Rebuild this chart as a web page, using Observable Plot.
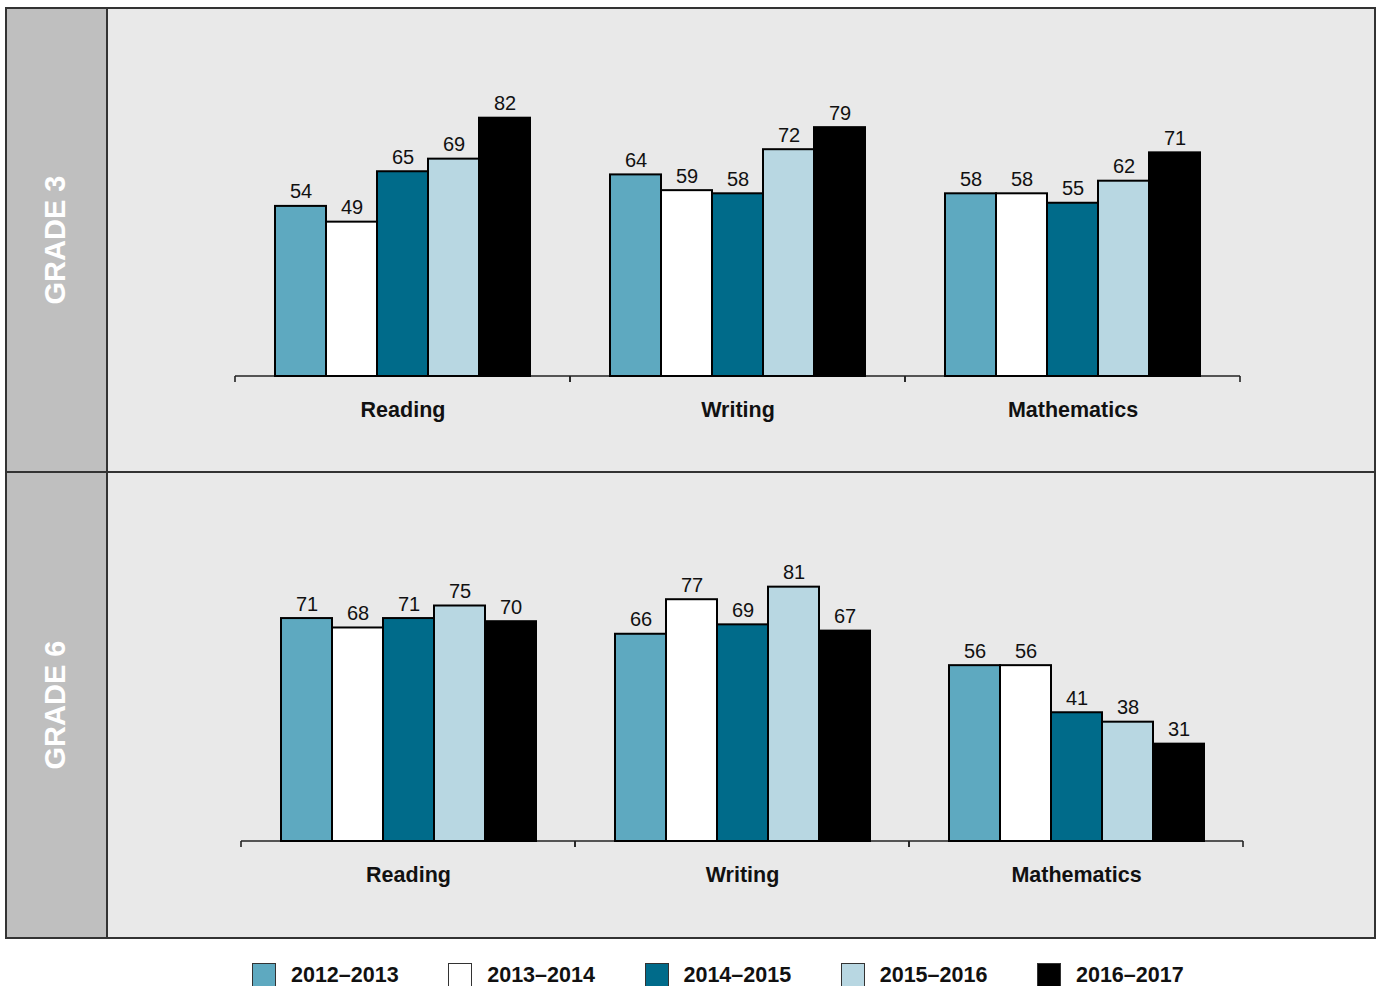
<!DOCTYPE html>
<html>
<head>
<meta charset="utf-8">
<script src="https://cdn.jsdelivr.net/npm/d3@7"></script>
<script src="https://cdn.jsdelivr.net/npm/@observablehq/plot@0.6"></script>
<style>
  html, body { margin: 0; padding: 0; background: #fff; }
  body { width: 1378px; height: 986px; overflow: hidden; position: relative; font-family: "Liberation Sans", Arial, sans-serif; }
  .row { position: absolute; left: 5px; width: 1371px; border: 2px solid #333; box-sizing: border-box; background: #e9e9e9; }
  .strip { position: absolute; left: 0; top: 0; bottom: 0; width: 99px; background: #bfbfbf; border-right: 2px solid #333; }
  .glabel { position: absolute; transform: translate(-50%, -50%) rotate(-90deg); color: #fff; font-weight: bold; font-size: 29px; white-space: nowrap; }
  .panel { position: absolute; left: 107px; }
  #legend { position: absolute; left: 252px; top: 963px; display: flex; }
  .item { width: 196.25px; display: flex; align-items: center; }
  .sw { width: 24px; height: 24px; box-sizing: border-box; border: 1.5px solid #333; margin-right: 15px; flex: none; }
  .lt { font-weight: bold; font-size: 21.5px; color: #111; line-height: 24px; }
</style>
</head>
<body>
<div class="row" style="top:7px;height:466px;"><div class="strip"></div></div>
<div class="row" style="top:471px;height:468px;"><div class="strip"></div></div>
<div class="glabel" style="left:55px;top:240px;">GRADE 3</div>
<div class="glabel" style="left:55px;top:705px;">GRADE 6</div>
<div class="panel" id="p3" style="top:8px;"></div>
<div class="panel" id="p6" style="top:472px;"></div>
<div id="legend"></div>
<script>
const subjects = ["Reading", "Writing", "Mathematics"];
const years = ["2012–2013", "2013–2014", "2014–2015", "2015–2016", "2016–2017"];
const yearColors = ["#5ea9c0", "#ffffff", "#006b8a", "#b8d7e2", "#000000"];

const grade3Reading = [54, 49, 65, 69, 82];
const grade3Writing = [64, 59, 58, 72, 79];
const grade3Math = [58, 58, 55, 62, 71];

const grade6Reading = [71, 68, 71, 75, 70];
const grade6Writing = [66, 77, 69, 81, 67];
const grade6Math = [56, 56, 41, 38, 31];

function rows(series) {
  const out = [];
  subjects.forEach((s, i) => {
    years.forEach((y, j) => out.push({subject: s, year: y, value: series[i][j]}));
  });
  return out;
}

// Baseline with tick marks at the edges of each facet (rendered once per facet)
function axisWithTicks(index, scales, values, dim) {
  const g = d3.create("svg:g").attr("stroke", "#222").attr("stroke-width", 1.6).attr("fill", "none");
  const y0 = dim.height - dim.marginBottom;
  const x0 = dim.marginLeft, x1 = dim.width - dim.marginRight;
  g.append("line").attr("x1", x0).attr("x2", x1).attr("y1", y0).attr("y2", y0);
  for (const x of [x0, x1]) {
    g.append("line").attr("x1", x).attr("x2", x).attr("y1", y0).attr("y2", y0 + 6);
  }
  return g.node();
}

function panel(series, opts) {
  const data = rows(series);
  return Plot.plot({
    width: 1269,
    height: opts.height,
    marginLeft: opts.ml,
    marginRight: opts.mr,
    marginTop: opts.mt,
    marginBottom: opts.mb,
    style: {background: "transparent", fontFamily: "Liberation Sans, Arial, sans-serif", color: "#111", overflow: "visible"},
    fx: {domain: subjects, padding: 0},
    x: {domain: years, paddingInner: 0, paddingOuter: 0.746, axis: null},
    y: {domain: [0, 100], axis: null},
    color: {domain: years, range: yearColors},
    marks: [
      axisWithTicks,
      Plot.barY(data, {fx: "subject", x: "year", y: "value", fill: "year", stroke: "#000", strokeWidth: 2}),
      Plot.text(data, {fx: "subject", x: "year", y: "value", text: d => String(d.value), dy: -8, lineAnchor: "bottom", fontSize: 20, fill: "#111"}),
      Plot.axisFx({anchor: "bottom", tickSize: 0, tickPadding: 25, fontSize: 21.5, fontWeight: "bold", label: null})
    ]
  });
}

document.getElementById("p3").append(panel([grade3Reading, grade3Writing, grade3Math], {height: 464, ml: 128, mr: 136, mt: 53, mb: 96}));
document.getElementById("p6").append(panel([grade6Reading, grade6Writing, grade6Math], {height: 466, ml: 133, mr: 132, mt: 55, mb: 97}));

const legend = document.getElementById("legend");
years.forEach((y, i) => {
  const item = document.createElement("div");
  item.className = "item";
  const sw = document.createElement("div");
  sw.className = "sw";
  sw.style.background = yearColors[i];
  const t = document.createElement("span");
  t.className = "lt";
  t.textContent = y;
  item.append(sw, t);
  legend.append(item);
});
</script>
</body>
</html>
